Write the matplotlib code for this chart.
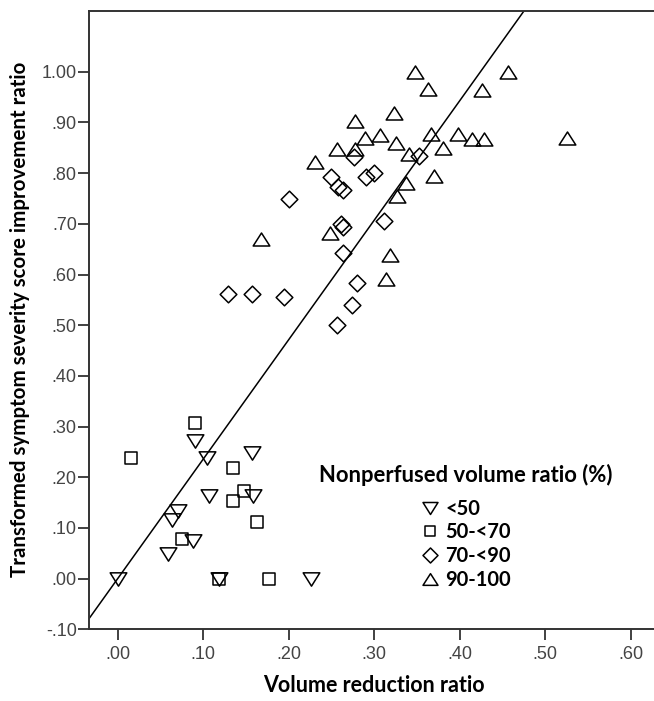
import matplotlib
matplotlib.use("Agg")
import matplotlib.pyplot as plt
from matplotlib.path import Path

# ---------------------------
# Data (volume reduction ratio, score improvement ratio)
# ---------------------------
lt50_x = [0.090, 0.104, 0.157, 0.107, 0.158, 0.071, 0.064, 0.088, 0.059, 0.000, 0.119, 0.226]
lt50_y = [0.271, 0.238, 0.248, 0.164, 0.164, 0.133, 0.116, 0.075, 0.049, 0.000, 0.000, 0.000]

r50_70_x = [0.090, 0.016, 0.135, 0.148, 0.135, 0.163, 0.075, 0.119, 0.177]
r50_70_y = [0.308, 0.238, 0.218, 0.173, 0.154, 0.112, 0.078, 0.000, 0.000]

r70_90_x = [0.276, 0.352, 0.250, 0.258, 0.264, 0.291, 0.300, 0.200, 0.311,
            0.261, 0.263, 0.263, 0.280, 0.274, 0.256, 0.129, 0.157, 0.195]
r70_90_y = [0.832, 0.834, 0.793, 0.773, 0.767, 0.793, 0.800, 0.750, 0.706,
            0.700, 0.694, 0.643, 0.584, 0.539, 0.501, 0.562, 0.562, 0.556]

r90_100_x = [0.348, 0.456, 0.363, 0.426, 0.323, 0.278, 0.289, 0.307, 0.326,
             0.366, 0.398, 0.415, 0.428, 0.525, 0.257, 0.278, 0.381, 0.341,
             0.231, 0.370, 0.337, 0.327, 0.168, 0.248, 0.319, 0.314]
r90_100_y = [1.000, 1.000, 0.967, 0.965, 0.918, 0.903, 0.870, 0.876, 0.859,
             0.877, 0.877, 0.867, 0.867, 0.870, 0.848, 0.847, 0.849, 0.838,
             0.823, 0.795, 0.780, 0.754, 0.670, 0.681, 0.639, 0.591]

group_labels = ["<50", "50-<70", "70-<90", "90-100"]

# fit line (total)
fit_slope = 2.357
fit_intercept = 0.0

x_ticks = [0.0, 0.1, 0.2, 0.3, 0.4, 0.5, 0.6]
x_tick_labels = [".00", ".10", ".20", ".30", ".40", ".50", ".60"]
y_ticks = [-0.1, 0.0, 0.1, 0.2, 0.3, 0.4, 0.5, 0.6, 0.7, 0.8, 0.9, 1.0]
y_tick_labels = ["-.10", ".00", ".10", ".20", ".30", ".40", ".50",
                 ".60", ".70", ".80", ".90", "1.00"]

# ---------------------------
# Marker shapes (SPSS style, hollow)
# ---------------------------
tri_down = Path([(-1, 0.8), (1, 0.8), (0, -0.8), (-1, 0.8)], closed=True)
square = Path([(-1, -1), (1, -1), (1, 1), (-1, 1), (-1, -1)], closed=True)
diamond = Path([(0, 1), (1, 0), (0, -1), (-1, 0), (0, 1)], closed=True)
tri_up = Path([(-1, -0.78), (1, -0.78), (0, 0.78), (-1, -0.78)], closed=True)

tick_font = ["Liberation Sans Narrow", "Liberation Sans"]
label_font = ["Lato", "DejaVu Sans"]
axis_color = "#333333"

fig = plt.figure(figsize=(6.54, 7.01), dpi=100)
ax = fig.add_axes([89.3 / 654, 71.7 / 701, (654 - 89.3) / 654, 618.3 / 701])

groups = [
    (lt50_x, lt50_y, tri_down, 12),
    (r50_70_x, r50_70_y, square, 8),
    (r70_90_x, r70_90_y, diamond, 12),
    (r90_100_x, r90_100_y, tri_up, 12),
]
handles = []
for (gx, gy, mk, ms), lab in zip(groups, group_labels):
    h, = ax.plot(gx, gy, linestyle="none", marker=mk, markersize=ms,
                 markerfacecolor="none", markeredgecolor="black",
                 markeredgewidth=1.1, label=lab, zorder=3)
    handles.append(h)

ax.axline((0, fit_intercept), slope=fit_slope, color="black", lw=1.1, zorder=2)

ax.set_xlim(-0.0332, 0.6273)
ax.set_ylim(-0.10, 1.12)
ax.set_xticks(x_ticks)
ax.set_xticklabels(x_tick_labels, family=tick_font, fontsize=13, color="#444444")
ax.set_yticks(y_ticks)
ax.set_yticklabels(y_tick_labels, family=tick_font, fontsize=13, color="#444444")
ax.tick_params(axis="x", direction="out", length=8, width=1.3, color=axis_color, pad=4)
ax.tick_params(axis="y", direction="out", length=8, width=1.3, color=axis_color, pad=1)

for side in ["left", "bottom", "top"]:
    ax.spines[side].set_linewidth(1.4)
    ax.spines[side].set_color(axis_color)
ax.spines["right"].set_visible(False)

fig.text(374 / 654, 1 - 686 / 701, "Volume reduction ratio", family=label_font,
         fontweight="bold", fontsize=15.5, ha="center", va="center")
fig.text(20 / 654, 1 - 319 / 701, "Transformed symptom severity score improvement ratio",
         family=label_font, fontweight="bold", fontsize=14.8, rotation=90,
         ha="center", va="center")

leg = ax.legend(handles=handles, title="Nonperfused volume ratio (%)",
                loc="center", bbox_to_anchor=(466 / 654, 1 - 527 / 701),
                bbox_transform=fig.transFigure, frameon=False,
                prop={"family": label_font, "weight": "bold", "size": 14.5},
                title_fontproperties={"family": label_font, "weight": "bold", "size": 15.8},
                handlelength=0.9, handletextpad=0.3, labelspacing=0.18,
                markerscale=0.9, borderpad=0.2)
leg._legend_box.sep = 9

fig.savefig("out.png", dpi=100)
